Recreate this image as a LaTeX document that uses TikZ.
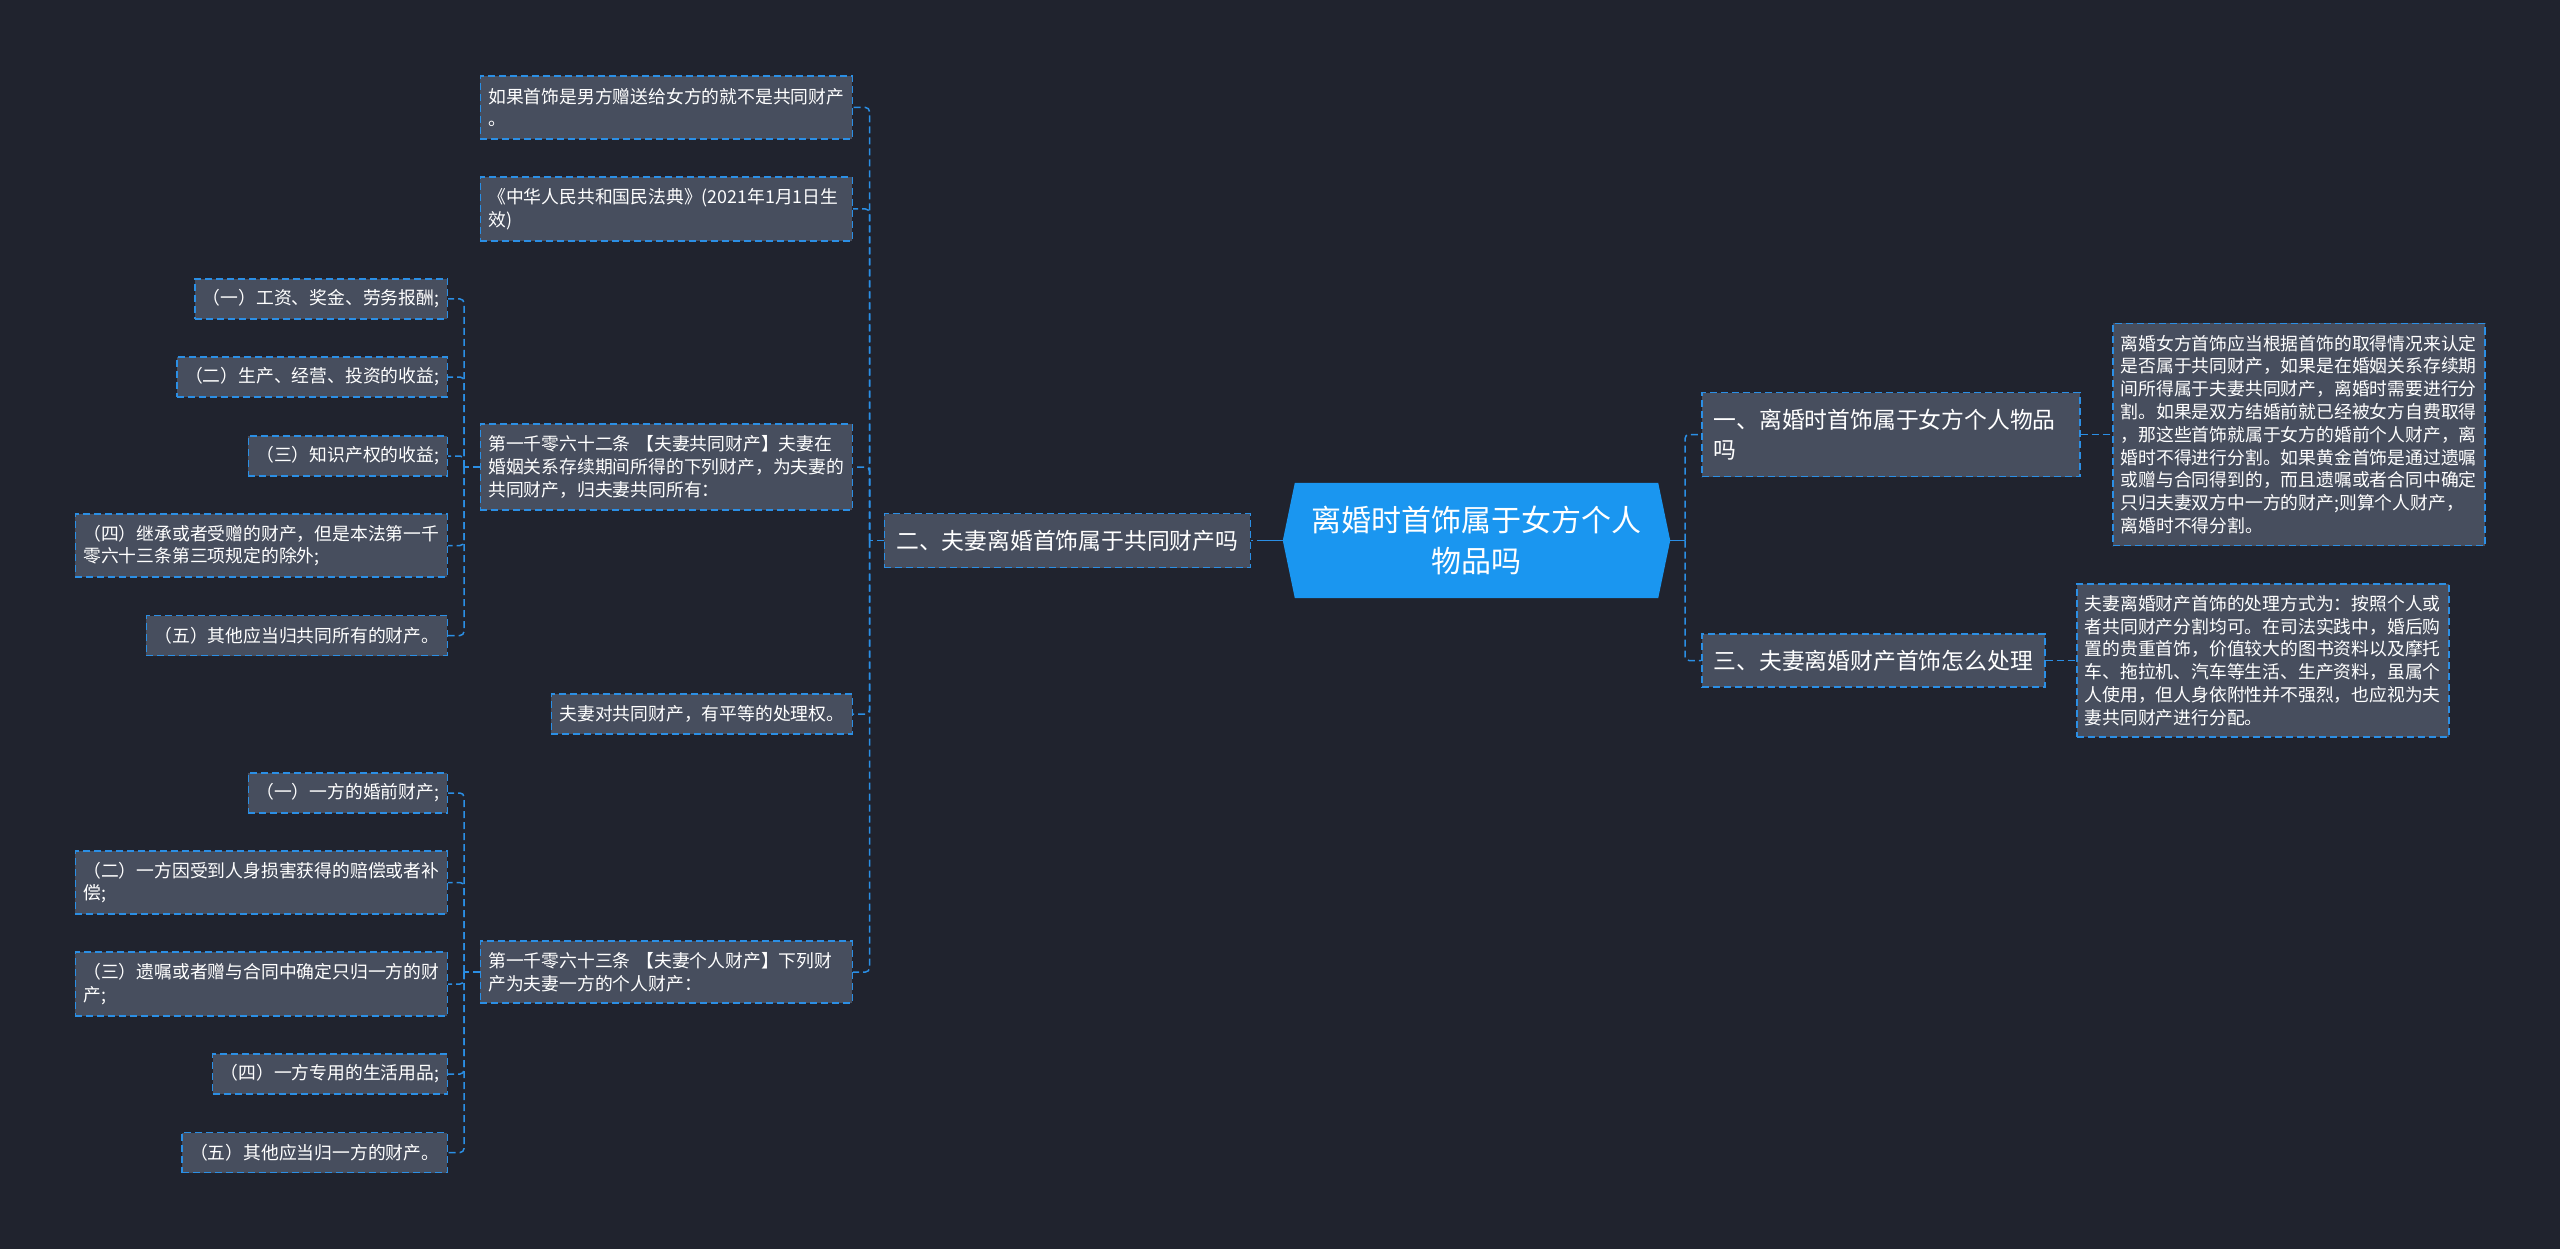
\documentclass[tikz,border=0pt]{standalone}
\usepackage{fontspec}
\newfontfamily\cjk{Noto Sans CJK SC}
\usetikzlibrary{backgrounds}
\definecolor{bgc}{HTML}{20232E}
\definecolor{boxc}{HTML}{474E5E}
\definecolor{linec}{HTML}{2B8FE5}
\definecolor{rootc}{HTML}{1A96F0}
\newcommand{\smallcjk}{\cjk\fontsize{17.8pt}{22.8pt}\selectfont}
\newcommand{\midcjk}{\cjk\fontsize{22.8pt}{30pt}\selectfont}
\newcommand{\bigcjk}{\cjk\fontsize{30pt}{41pt}\selectfont}
\tikzset{
  basebox/.style={draw=linec, line width=1.5pt, dash pattern=on 7pt off 4pt, fill=boxc, text=white, align=left},
  sbox/.style={basebox, font=\smallcjk, inner xsep=8pt, inner ysep=3pt, minimum height=40pt},
  wbox/.style={sbox, text width=356pt},
  mbox/.style={basebox, font=\midcjk, inner xsep=12pt, inner ysep=3pt},
  rootn/.style={text=white, font=\bigcjk, align=center, minimum width=387pt, minimum height=115pt, inner sep=0pt},
  dashc/.style={draw=linec, line width=1.5pt, dash pattern=on 7pt off 4pt, rounded corners=4pt},
  solidc/.style={draw=linec, line width=1.5pt}
}
\begin{document}
\begin{tikzpicture}[x=1pt,y=-1pt]
\begin{pgfonlayer}{background}
\fill[bgc] (0,0) rectangle (2560,1249);
\end{pgfonlayer}
\useasboundingbox (0,0) rectangle (2560,1249);

% root
\node[rootn] (root) at (1476.5,540.5) {离婚时首饰属于女方个人\\物品吗};
\begin{pgfonlayer}{background}
\fill[rootc] ([xshift=12pt]root.north west) -- ([xshift=-12pt]root.north east) -- (root.east)
  -- ([xshift=-12pt]root.south east) -- ([xshift=12pt]root.south west) -- (root.west) -- cycle;
\end{pgfonlayer}

% right side
\node[mbox, anchor=west, text width=354pt, minimum height=84pt] (b1) at (1701,434.5) {一、离婚时首饰属于女方个人物品\\吗};
\node[mbox, anchor=west, minimum height=53pt] (b3) at (1701,660.5) {三、夫妻离婚财产首饰怎么处理};
\node[wbox, anchor=west, minimum height=222pt] (d1) at (2112,434.5) {离婚女方首饰应当根据首饰的取得情况来认定\\是否属于共同财产，如果是在婚姻关系存续期\\间所得属于夫妻共同财产，离婚时需要进行分\\割。如果是双方结婚前就已经被女方自费取得\\，那这些首饰就属于女方的婚前个人财产，离\\婚时不得进行分割。如果黄金首饰是通过遗嘱\\或赠与合同得到的，而且遗嘱或者合同中确定\\只归夫妻双方中一方的财产;则算个人财产，\\离婚时不得分割。};
\node[wbox, anchor=west, minimum height=153pt] (d3) at (2076,660.5) {夫妻离婚财产首饰的处理方式为：按照个人或\\者共同财产分割均可。在司法实践中，婚后购\\置的贵重首饰，价值较大的图书资料以及摩托\\车、拖拉机、汽车等生活、生产资料，虽属个\\人使用，但人身依附性并不强烈，也应视为夫\\妻共同财产进行分配。};

% left side level 2
\node[mbox, anchor=east, minimum height=54pt] (b2) at (1251,540.5) {二、夫妻离婚首饰属于共同财产吗};

% level 3
\node[wbox, anchor=east, minimum height=63pt] (L1) at (853,107.5) {如果首饰是男方赠送给女方的就不是共同财产\\。};
\node[wbox, anchor=east, minimum height=64pt] (L2) at (853,209) {《中华人民共和国民法典》(2021年1月1日生\\效)};
\node[wbox, anchor=east, minimum height=86pt] (L3) at (853,467) {第一千零六十二条 【夫妻共同财产】夫妻在\\婚姻关系存续期间所得的下列财产，为夫妻的\\共同财产，归夫妻共同所有：};
\node[sbox, anchor=east] (L4) at (853,714) {夫妻对共同财产，有平等的处理权。};
\node[wbox, anchor=east, minimum height=62pt] (L5) at (853,972) {第一千零六十三条 【夫妻个人财产】下列财\\产为夫妻一方的个人财产：};

% level 4 (under L3)
\node[sbox, anchor=east] (A1) at (448,299) {（一）工资、奖金、劳务报酬;};
\node[sbox, anchor=east] (A2) at (448,377) {（二）生产、经营、投资的收益;};
\node[sbox, anchor=east] (A3) at (448,456) {（三）知识产权的收益;};
\node[wbox, anchor=east, minimum height=63pt] (A4) at (448,545.5) {（四）继承或者受赠的财产，但是本法第一千\\零六十三条第三项规定的除外;};
\node[sbox, anchor=east] (A5) at (448,635.5) {（五）其他应当归共同所有的财产。};

% level 4 (under L5)
\node[sbox, anchor=east] (B1) at (448,793) {（一）一方的婚前财产;};
\node[wbox, anchor=east, minimum height=63pt] (B2) at (448,882.5) {（二）一方因受到人身损害获得的赔偿或者补\\偿;};
\node[wbox, anchor=east, minimum height=64pt] (B3) at (448,984) {（三）遗嘱或者赠与合同中确定只归一方的财\\产;};
\node[sbox, anchor=east] (B4) at (448,1074) {（四）一方专用的生活用品;};
\node[sbox, anchor=east] (B5) at (448,1152.5) {（五）其他应当归一方的财产。};

% connectors right
\coordinate (rj) at (1685,540.5);
\draw[solidc] (root.east) -- (rj);
\draw[dashc] (rj) |- (b1.west);
\draw[dashc] (rj) |- (b3.west);
\draw[dashc] (b1.east) -- (d1.west);
\draw[dashc] (b3.east) -- (d3.west);

% connectors left
\coordinate (lj) at (1264,540.5);
\draw[solidc] (root.west) -- (lj);
\draw[dashc] (lj) -- (b2.east);
\coordinate (j2) at (869.5,540.5);
\draw[dashc] (b2.west) -- (j2);
\foreach \n in {L1,L2,L3,L4,L5} { \draw[dashc] (j2) |- (\n.east); }
\coordinate (j3) at (464,467);
\draw[dashc] (L3.west) -- (j3);
\foreach \n in {A1,A2,A3,A4,A5} { \draw[dashc] (j3) |- (\n.east); }
\coordinate (j5) at (464,972);
\draw[dashc] (L5.west) -- (j5);
\foreach \n in {B1,B2,B3,B4,B5} { \draw[dashc] (j5) |- (\n.east); }
\end{tikzpicture}
\end{document}
